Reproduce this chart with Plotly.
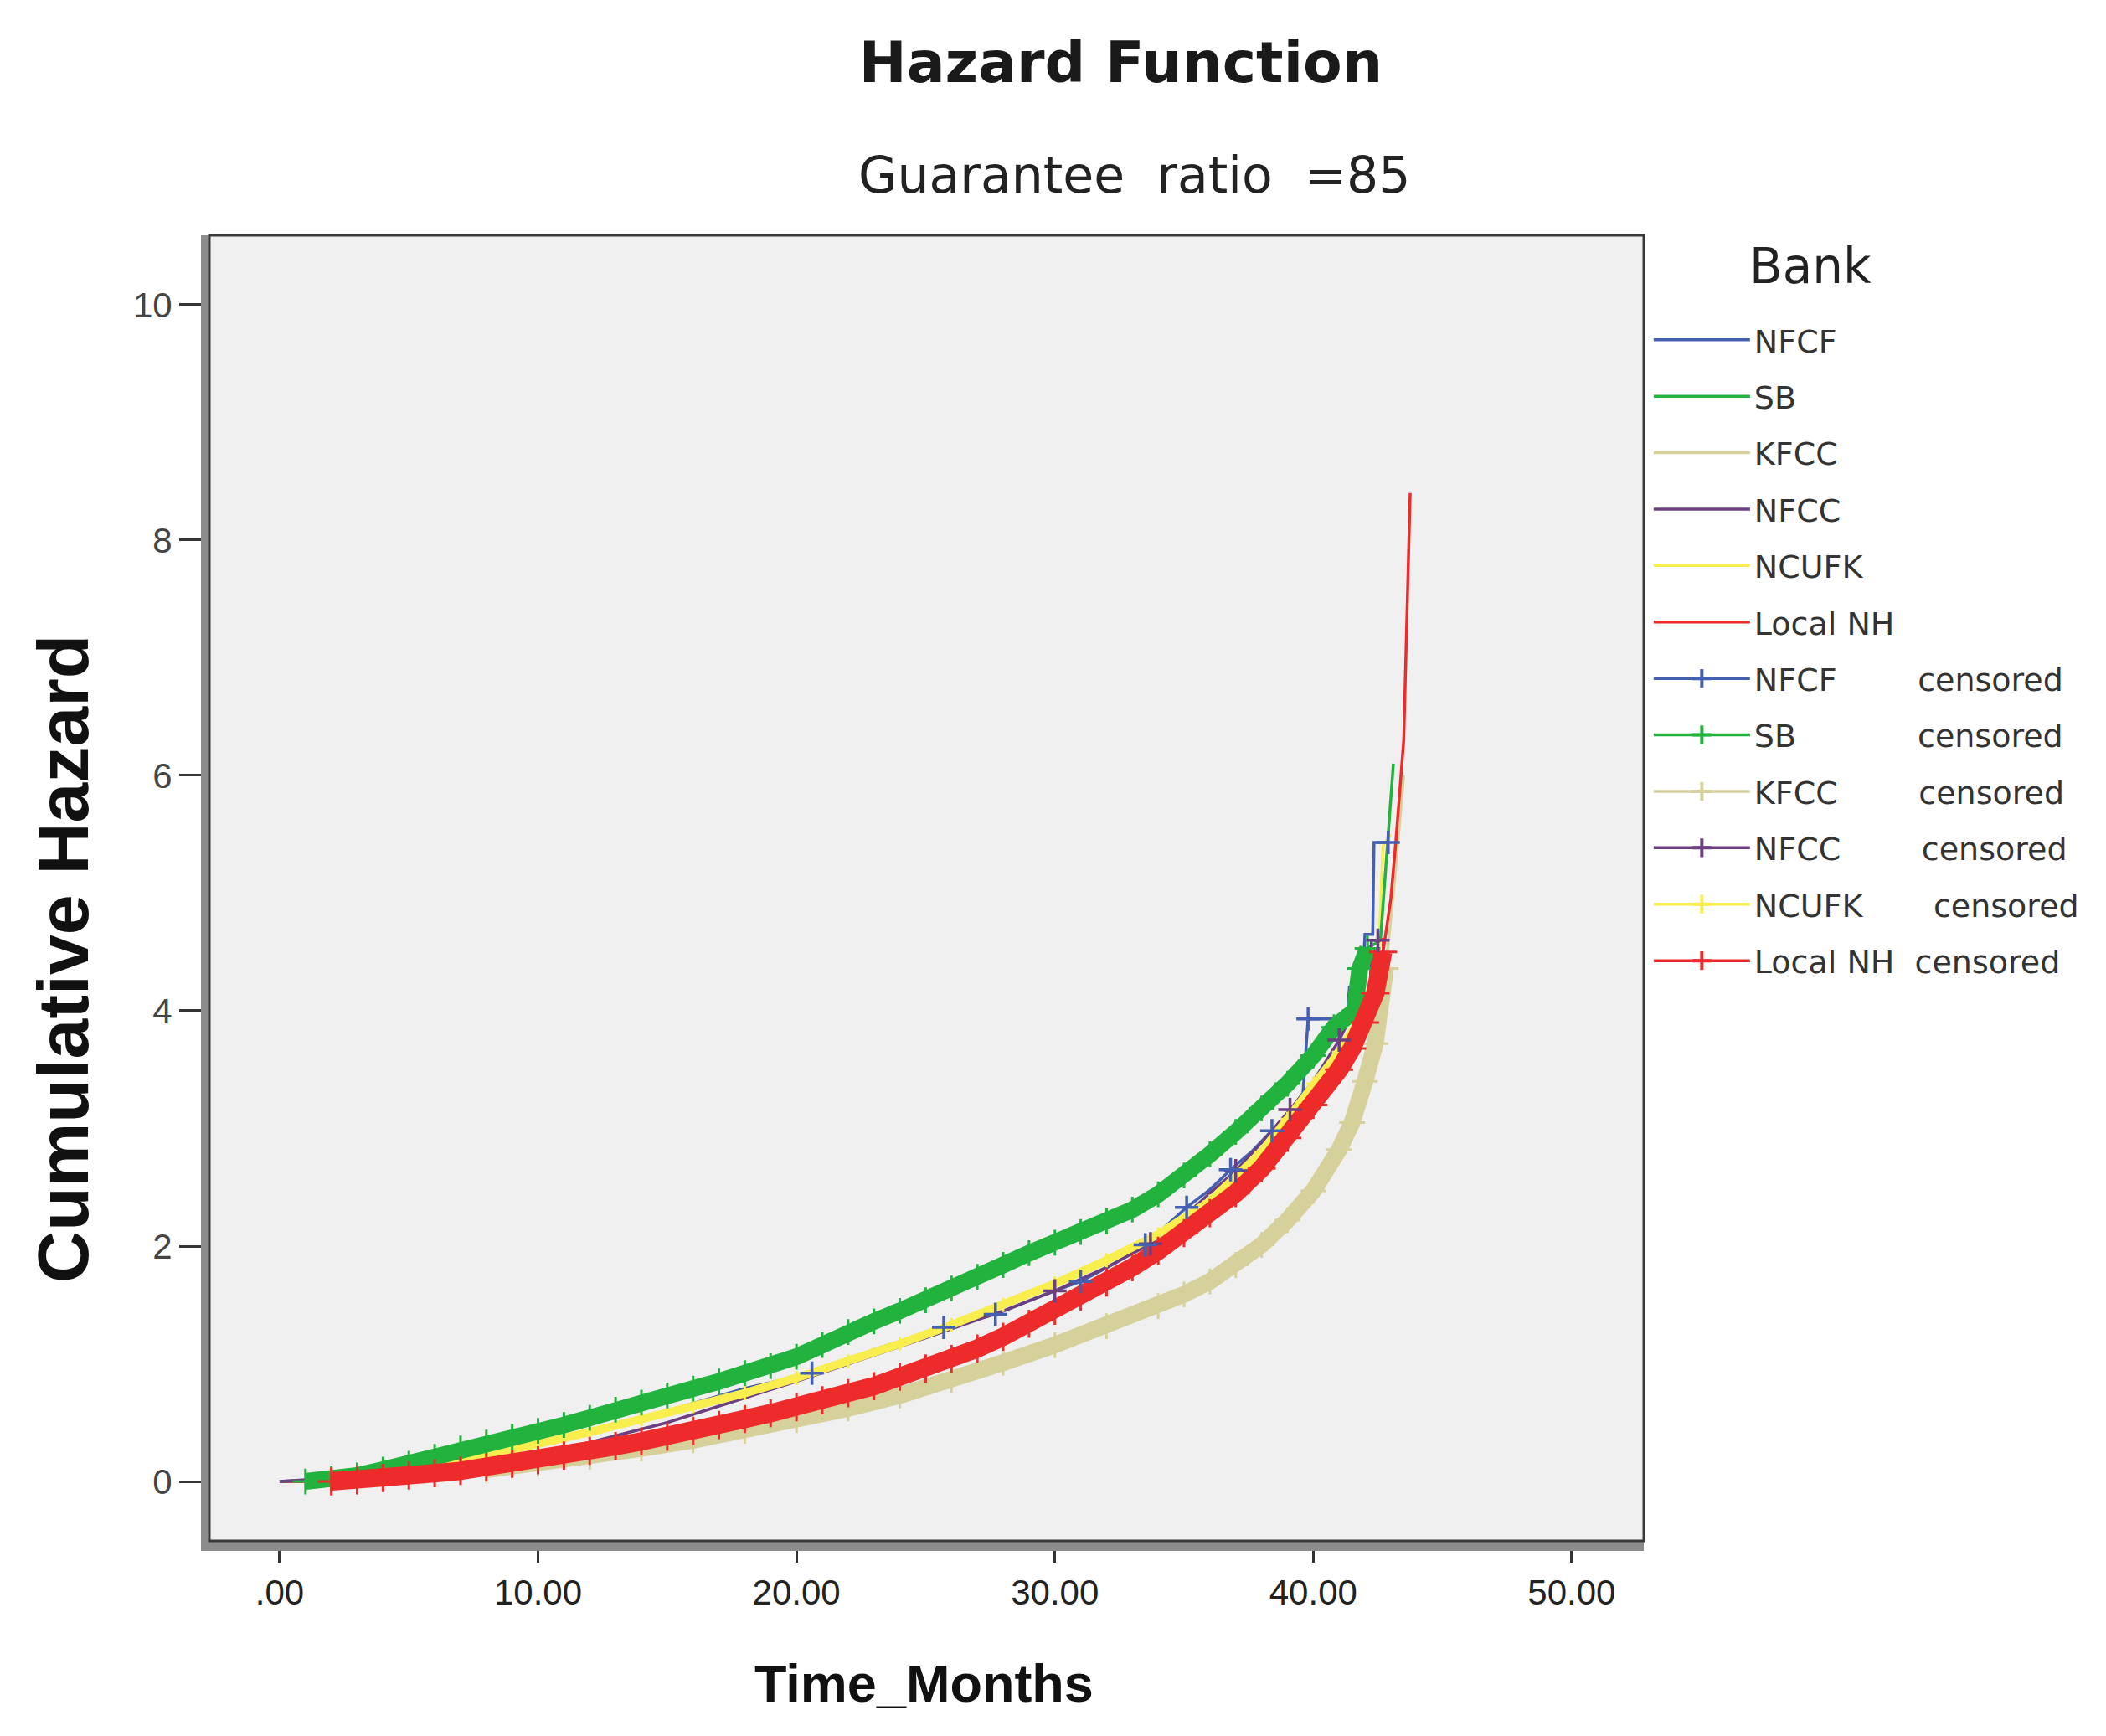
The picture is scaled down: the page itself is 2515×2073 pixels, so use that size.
import numpy as np
import plotly.graph_objects as go

# ── Data (Time_Months, Cumulative Hazard) ─────────────────────────────────────
BANKS = ['NFCF', 'SB', 'KFCC', 'NFCC', 'NCUFK', 'Local NH']

nfcf_t = [0, 3, 6, 9, 12, 15, 18, 20.6, 23.0, 25.7, 27.7, 29.5, 31.0, 32.3, 33.5, 34.3,
          35.1, 36.0, 36.8, 37.6, 38.4, 39.0, 39.6, 39.8, 41.3, 41.4, 41.9, 42.0, 42.3, 42.35, 42.9]
nfcf_h = [0, 0.03, 0.12, 0.25, 0.42, 0.60, 0.79, 0.92, 1.12, 1.31, 1.42, 1.58, 1.70, 1.85, 2.01, 2.17,
          2.33, 2.48, 2.65, 2.80, 2.98, 3.12, 3.30, 3.93, 3.93, 4.20, 4.20, 4.65, 4.65, 5.43, 5.43]
nfcf_cens = [20.6, 25.7, 27.7, 31.0, 33.5, 35.1, 36.8, 38.4, 39.8, 42.9]

sb_t = [0, 1, 2, 3, 4, 5, 6, 7, 8, 9, 10, 11, 12, 13, 14, 15, 16, 17, 18, 19, 20, 21, 22, 23,
        24, 25, 26, 27, 28, 29, 30, 31, 32, 33, 34, 35, 36, 37, 38, 39, 40, 40.8, 41.6, 41.8,
        42.1, 42.6, 43.1]
sb_h = [0, 0, 0.02, 0.05, 0.10, 0.15, 0.21, 0.28, 0.33, 0.38, 0.43, 0.48, 0.54, 0.61, 0.67, 0.73,
        0.79, 0.85, 0.92, 0.98, 1.06, 1.16, 1.27, 1.36, 1.45, 1.54, 1.64, 1.74, 1.84, 1.94, 2.03,
        2.12, 2.21, 2.31, 2.44, 2.60, 2.78, 2.97, 3.17, 3.38, 3.62, 3.86, 4.00, 4.36, 4.53, 4.60, 6.10]

kfcc_t = [0, 2, 4, 6, 8, 10, 12, 14, 16, 18, 20, 22, 24, 26, 28, 30, 32, 34, 35, 36, 37, 38,
          39, 40, 41, 41.5, 42, 42.4, 42.8, 43.1, 43.5]
kfcc_h = [0, 0, 0.02, 0.06, 0.10, 0.15, 0.21, 0.28, 0.35, 0.43, 0.52, 0.62, 0.73, 0.86, 1.01,
          1.16, 1.32, 1.49, 1.59, 1.70, 1.84, 2.01, 2.22, 2.47, 2.82, 3.05, 3.40, 3.72, 4.36, 5.00, 6.00]

nfcc_t = [0, 5, 10, 15, 20, 25, 28, 30, 32, 33.7, 35.0, 36.0, 37.0, 38.0, 39.1, 40.0, 41.0,
          41.8, 42.2, 42.25, 42.6]
nfcc_h = [0, 0.07, 0.22, 0.50, 0.85, 1.22, 1.45, 1.62, 1.82, 2.02, 2.25, 2.45, 2.64, 2.88, 3.16,
          3.40, 3.75, 4.10, 4.10, 4.60, 4.60]
nfcc_cens = [30.0, 33.7, 37.0, 39.1, 41.0, 42.5]

ncufk_t = [0, 2, 4, 6, 8, 10, 12, 14, 16, 18, 20, 22, 24, 26, 28, 30, 32, 34, 36, 38, 39, 40,
           41, 42, 42.5, 42.7, 43.0]
ncufk_h = [0, 0.01, 0.06, 0.13, 0.22, 0.32, 0.42, 0.53, 0.64, 0.75, 0.88, 1.02, 1.17, 1.33, 1.50,
           1.68, 1.88, 2.10, 2.38, 2.80, 3.08, 3.38, 3.65, 4.00, 4.30, 5.40, 5.50]

nh_t = [0, 2, 3, 4, 5, 6, 7, 8, 9, 10, 11, 12, 13, 14, 15, 16, 17, 18, 19, 20, 21, 22, 23, 24,
        25, 26, 27, 28, 29, 30, 31, 32, 33, 34, 35, 36, 37, 38, 39, 40, 41, 41.5, 42, 42.4, 42.7,
        43.0, 43.2, 43.5, 43.75]
nh_h = [0, 0, 0.01, 0.03, 0.05, 0.07, 0.09, 0.12, 0.15, 0.18, 0.22, 0.26, 0.30, 0.34, 0.38, 0.43,
        0.48, 0.53, 0.58, 0.63, 0.69, 0.75, 0.81, 0.89, 0.96, 1.04, 1.13, 1.23, 1.34, 1.45, 1.57,
        1.69, 1.82, 1.96, 2.11, 2.28, 2.45, 2.66, 2.92, 3.20, 3.50, 3.68, 3.90, 4.15, 4.50, 4.95,
        5.45, 6.30, 8.40]

# dense censoring: time span covered by "+" marks
dense_span = {'SB': (1, 42.1), 'KFCC': (8, 42.8), 'NCUFK': (2, 42.0), 'Local NH': (2, 42.7)}
sparse_cens = {'NFCF': nfcf_cens, 'NFCC': nfcc_cens}

x_ticks = [0, 10, 20, 30, 40, 50]
x_ticktext = ['.00', '10.00', '20.00', '30.00', '40.00', '50.00']
y_ticks = [0, 2, 4, 6, 8, 10]

steps = {'NFCF': (nfcf_t, nfcf_h), 'SB': (sb_t, sb_h), 'KFCC': (kfcc_t, kfcc_h),
         'NFCC': (nfcc_t, nfcc_h), 'NCUFK': (ncufk_t, ncufk_h), 'Local NH': (nh_t, nh_h)}

colors = {'NFCF': '#4460B0', 'SB': '#22B33F', 'KFCC': '#D6D19A',
          'NFCC': '#6C3F80', 'NCUFK': '#F8EE4E', 'Local NH': '#EE2B2B'}
band_w = {'SB': 20, 'KFCC': 20, 'NCUFK': 10, 'Local NH': 22}

NBSP = '\u00a0'
cens_gap = {'NFCF': 8, 'SB': 12, 'KFCC': 8, 'NFCC': 8, 'NCUFK': 7, 'Local NH': 2}

fig = go.Figure()

# step lines (many tiny steps -> drawn through the read points)
draw_order = ['KFCC', 'NCUFK', 'SB', 'Local NH', 'NFCF', 'NFCC']
for b in draw_order:
    t, h = steps[b]
    fig.add_trace(go.Scatter(x=t, y=h, mode='lines', name=b,
                             line=dict(color=colors[b], width=3.5),
                             legendgroup=b, legendrank=BANKS.index(b) + 1))

# dense censored marks (bands of "+")
for b in ['KFCC', 'NCUFK', 'SB', 'Local NH']:
    t, h = np.array(steps[b][0]), np.array(steps[b][1])
    lo, hi = dense_span[b]
    m = (t >= lo) & (t <= hi)
    fig.add_trace(go.Scatter(x=t[m], y=h[m], mode='lines', showlegend=False, hoverinfo='skip',
                             line=dict(color=colors[b], width=band_w[b])))
    fig.add_trace(go.Scatter(x=t[m], y=h[m], mode='markers', showlegend=False,
                             marker=dict(symbol='cross-thin', size=band_w[b] + 2,
                                         line=dict(color=colors[b], width=3))))

# sparse censored marks
for b in ['NFCC', 'NFCF']:
    t, h = np.array(steps[b][0]), np.array(steps[b][1])
    ct = np.array(sparse_cens[b])
    ch = h[np.searchsorted(t, ct, side='right') - 1]
    fig.add_trace(go.Scatter(x=ct, y=ch, mode='markers', showlegend=False,
                             marker=dict(symbol='cross-thin', size=20,
                                         line=dict(color=colors[b], width=3.5))))

# legend entries for censored marks
for b in BANKS:
    fig.add_trace(go.Scatter(x=[None], y=[None], mode='lines+markers',
                             name=b + NBSP * cens_gap[b] + 'censored',
                             line=dict(color=colors[b], width=3.5),
                             marker=dict(symbol='cross-thin', size=20,
                                         line=dict(color=colors[b], width=4)),
                             legendgroup=b + ' c', legendrank=BANKS.index(b) + 7))

fig.update_layout(
    width=2515, height=2073,
    margin=dict(l=242, r=560, t=273, b=241),
    paper_bgcolor='white', plot_bgcolor='#F0F0F0',
    title=dict(text='<b>Hazard Function</b>', x=0.529, xref='container', xanchor='center',
               y=0.968, yref='container', yanchor='middle',
               font=dict(family='DejaVu Sans', size=68, color='#1A1A1A')),
    showlegend=True,
    legend=dict(x=1.004, xanchor='left', y=0.94, yanchor='top',
                font=dict(family='DejaVu Sans', size=38, color='#333333'),
                traceorder='grouped', tracegroupgap=15, itemwidth=115,
                bgcolor='rgba(0,0,0,0)'),
    xaxis=dict(range=[-2.72, 52.79], tickvals=x_ticks, ticktext=x_ticktext,
               showgrid=False, zeroline=False, showline=True, linecolor='#8C8C8C', linewidth=12,
               ticks='outside', ticklen=14, tickwidth=3, tickcolor='#333333',
               tickfont=dict(family='Liberation Sans Narrow, Liberation Sans', size=42, color='#222222')),
    yaxis=dict(range=[-0.505, 10.59], tickvals=y_ticks,
               showgrid=False, zeroline=False, showline=True, linecolor='#8C8C8C', linewidth=10,
               ticks='outside', ticklen=26, tickwidth=3, tickcolor='#333333',
               tickfont=dict(family='Liberation Sans', size=42, color='#444444')),
    shapes=[dict(type='rect', xref='paper', yref='paper', x0=0, x1=1, y0=0, y1=1,
                 line=dict(color='#3A3A3A', width=3), layer='above')],
    annotations=[
        dict(text='Guarantee' + NBSP * 2 + 'ratio' + NBSP * 2 + '=85', xref='paper', yref='paper',
             x=0.6445, y=1.046, xanchor='center', yanchor='middle', showarrow=False,
             font=dict(family='DejaVu Sans', size=60, color='#222222')),
        dict(text='Bank', xref='paper', yref='paper', x=1.116, y=0.976,
             xanchor='center', yanchor='middle', showarrow=False,
             font=dict(family='DejaVu Sans', size=58, color='#222222')),
        dict(text='<b>Cumulative Hazard</b>', xref='paper', yref='paper', x=-0.1022, y=0.4458,
             xanchor='center', yanchor='middle', textangle=-90, showarrow=False,
             font=dict(family='Liberation Sans Narrow, Liberation Sans', size=86, color='#111111')),
        dict(text='<b>Time_Months</b>', xref='paper', yref='paper', x=0.4985, y=-0.109,
             xanchor='center', yanchor='middle', showarrow=False,
             font=dict(family='Liberation Sans Narrow, Liberation Sans', size=63, color='#111111')),
    ],
)

fig.write_html("out.html")
